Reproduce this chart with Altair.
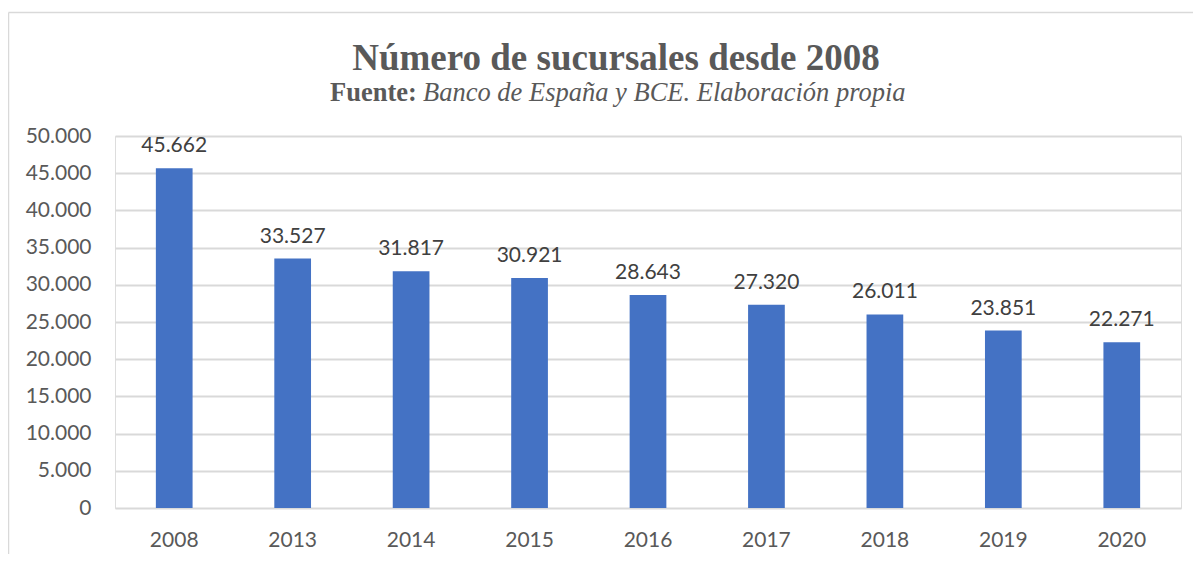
import altair as alt
import pandas as pd

years = ["2008", "2013", "2014", "2015", "2016", "2017", "2018", "2019", "2020"]
branches = [45662, 33527, 31817, 30921, 28643, 27320, 26011, 23851, 22271]

title_text = "Número de sucursales desde 2008"
source_bold = "Fuente:"
source_italic = "Banco de España y BCE. Elaboración propia"

df = pd.DataFrame({"year": years, "value": branches})

W, H = 1066, 372
fmt = "replace(format(datum.value, ','), ',', '.')"

x_enc = alt.X("year:N", sort=years,
              scale=alt.Scale(paddingInner=0.69, paddingOuter=0.345),
              axis=alt.Axis(title=None, labelAngle=0, domain=False, ticks=False,
                            labelPadding=21, labelFont="Lato", labelFontSize=21,
                            labelColor="#595959", grid=False, labelOverlap=False))
y_enc = alt.Y("value:Q",
              scale=alt.Scale(domain=[0, 50000], nice=False),
              axis=alt.Axis(title=None, values=list(range(0, 50001, 5000)),
                            tickCount=11,
                            labelExpr=fmt, domain=False, ticks=False,
                            labelOverlap=False,
                            labelPadding=24, labelFont="Lato", labelFontSize=21,
                            labelColor="#595959", gridColor="#D9D9D9",
                            gridWidth=2))

base = alt.Chart(df)

bars = base.mark_bar(color="#4472C4").encode(x=x_enc, y=y_enc)

labels = base.transform_calculate(
    lab="replace(format(datum.value, ','), ',', '.')"
).mark_text(font="Lato", fontSize=21, color="#404040", baseline="alphabetic",
            dy=-16).encode(x=x_enc, y=y_enc, text="lab:N")

tdf = pd.DataFrame({"t": [title_text]})
title = alt.Chart(tdf).mark_text(font="Liberation Serif", fontSize=37,
                                 fontWeight="bold", color="#595959",
                                 align="center", baseline="alphabetic").encode(
    text="t:N", x=alt.value(501), y=alt.value(-66))

sb = alt.Chart(pd.DataFrame({"t": [source_bold]})).mark_text(
    font="Liberation Serif", fontSize=26.5, fontWeight="bold", color="#595959",
    align="left", baseline="alphabetic").encode(
    text="t:N", x=alt.value(215), y=alt.value(-35))

si = alt.Chart(pd.DataFrame({"t": [source_italic]})).mark_text(
    font="Liberation Serif", fontSize=26.5, fontStyle="italic", color="#595959",
    align="left", baseline="alphabetic").encode(
    text="t:N", x=alt.value(308), y=alt.value(-35))

border_top = alt.Chart(pd.DataFrame({"a": [0]})).mark_rule(
    color="#D9D9D9", strokeWidth=1.5).encode(
    x=alt.value(-106.5), x2=alt.value(1200), y=alt.value(-123.5))
border_left = alt.Chart(pd.DataFrame({"a": [0]})).mark_rule(
    color="#D9D9D9", strokeWidth=1.5).encode(
    x=alt.value(-106.5), y=alt.value(-123.5), y2=alt.value(500))

chart = alt.layer(border_top, border_left, bars, labels, title, sb, si).properties(
    width=W, height=H,
    autosize=alt.AutoSizeParams(type="none"),
    padding={"left": 107, "top": 128, "right": 12, "bottom": 46},
).configure_view(stroke=None).configure(background="white")

chart.save("out.html", embed_options={"renderer": "svg", "actions": False})
